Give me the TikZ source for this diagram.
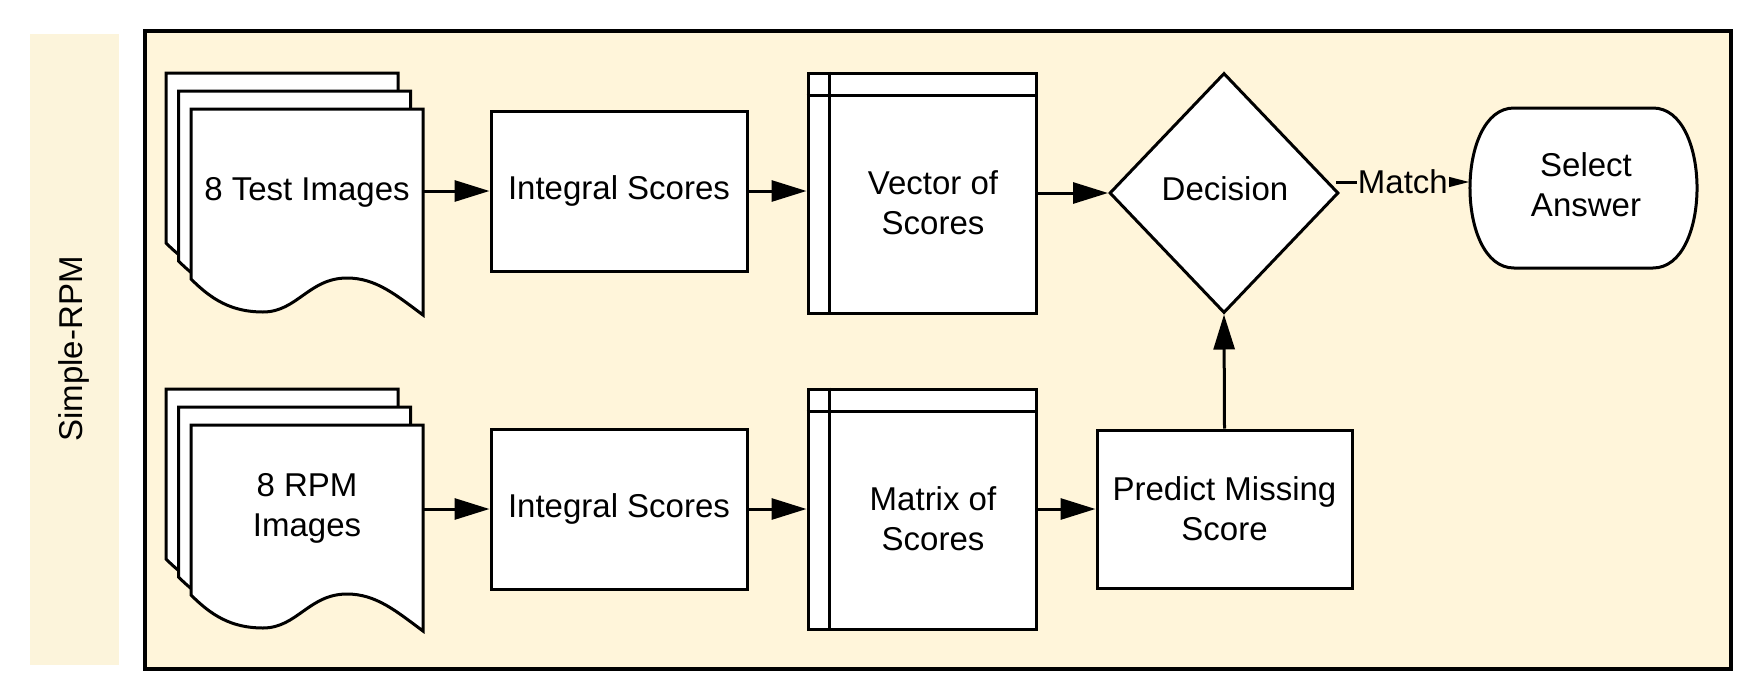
\documentclass[tikz,border=0pt]{standalone}
\usepackage{fontspec}
\setmainfont{Liberation Sans}
\usetikzlibrary{arrows.meta,shapes.geometric,calc}
\definecolor{cream}{HTML}{FFF5DA}
\definecolor{bandc}{HTML}{FCF4DB}
\newcommand\mydocshape[2]{%
  \begin{scope}[shift={(#1,#2)}]
    \draw[shapeline,fill=white] (0,0) -- (232,0) -- (232,206)
      .. controls (205,186) and (185,169) .. (156,169)
      .. controls (118,169) and (106,203) .. (72,203)
      .. controls (40,203) and (20,190) .. (0,170) -- cycle;
  \end{scope}}
\begin{document}
\begin{tikzpicture}[x=1pt,y=-1pt,
  txt/.style={font=\fontsize{33}{40}\selectfont,align=center,inner sep=0pt},
  shapeline/.style={line width=3pt,draw=black,line join=miter},
  box/.style={shapeline,fill=white,rectangle,inner sep=0pt,txt},
  arr/.style={line width=3pt,-{Triangle[length=35pt,width=21pt]}},
  arrs/.style={line width=3pt,-{Triangle[length=22pt,width=10pt]}},
  lbl/.style={txt,fill=cream,inner sep=1pt}]
\useasboundingbox (0,0) rectangle (1759,696);
% left band
\fill[bandc] (30,34) rectangle (119,665);
\node[txt,rotate=90] (title) at (74,349) {Simple-RPM};
% frame
\draw[line width=3.5pt,fill=cream] (145,31) rectangle (1731,669);
% document stacks (top)
\mydocshape{166}{73}
\mydocshape{178.5}{91}
\mydocshape{191}{109}
\node[minimum width=232pt,minimum height=206pt,inner sep=0pt] (testdoc) at (307,212) {};
\node[txt] (testtxt) at (307,192) {8 Test Images};
% document stacks (bottom)
\mydocshape{166}{389}
\mydocshape{178.5}{407}
\mydocshape{191}{425}
\node[minimum width=232pt,minimum height=206pt,inner sep=0pt] (rpmdoc) at (307,528) {};
\node[txt] (rpmtxt) at (307,508) {8 RPM\\Images};
% integral scores
\node[box,minimum width=256pt,minimum height=160pt] (int1) at (619,191) {Integral Scores};
\node[box,minimum width=256pt,minimum height=160pt] (int2) at (619,509) {Integral Scores};
% internal storage
\node[box,minimum width=228pt,minimum height=240pt] (vec) at (922,193) {};
\draw[shapeline] ($(vec.north west)+(23,0)$) -- ($(vec.south west)+(23,0)$);
\draw[shapeline] ($(vec.north west)+(0,24)$) -- ($(vec.north east)+(0,24)$);
\node[txt] (vectxt) at (933,203) {Vector of\\Scores};
\node[box,minimum width=228pt,minimum height=240pt] (mat) at (922,509) {};
\draw[shapeline] ($(mat.north west)+(23,0)$) -- ($(mat.south west)+(23,0)$);
\draw[shapeline] ($(mat.north west)+(0,24)$) -- ($(mat.north east)+(0,24)$);
\node[txt] (mattxt) at (933,519) {Matrix of\\Scores};
% decision
\node[shapeline,fill=white,diamond,inner sep=0pt,minimum width=229pt,minimum height=240pt] (dec) at (1224,193) {};
\node[txt] (dectxt) at (1225,189) {Decision};
% predict
\node[box,minimum width=255pt,minimum height=158pt] (pred) at (1224.5,509) {Predict Missing\\Score};
% select answer
\node[minimum width=227pt,minimum height=160pt,inner sep=0pt] (sel) at (1583.5,188) {};
\draw[shapeline,fill=white] (1514,108) -- (1653,108)
  .. controls (1711.7,108) and (1711.7,268) .. (1653,268)
  -- (1514,268)
  .. controls (1455.3,268) and (1455.3,108) .. (1514,108) -- cycle;
\node[txt] (seltxt) at (1586,185) {Select\\Answer};
% connectors
\draw[arr] (testdoc.east |- int1.west) -- (int1.west);
\draw[arr] (int1.east) -- (int1.east -| vec.west);
\draw[arr] (vec.east) -- (dec.west);
\draw[arrs] ($(dec.east)+(-4,-11)$) -- node[lbl] {Match} ($(sel.west)+(0,-6)$);
\draw[arr] (rpmdoc.east |- int2.west) -- (int2.west);
\draw[arr] (int2.east) -- (int2.east -| mat.west);
\draw[arr] (mat.east) -- (pred.west);
\draw[arr] (pred.north) -- (dec.south);
\end{tikzpicture}
\end{document}
